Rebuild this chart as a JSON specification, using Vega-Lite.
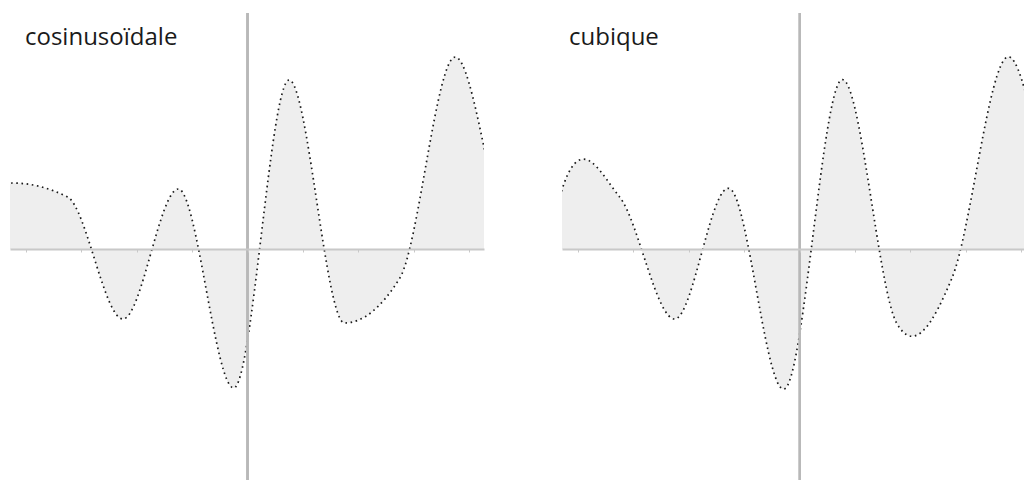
{
  "$schema": "https://vega.github.io/schema/vega-lite/v6.json",
  "padding": {"left": 10, "top": 12, "right": 0, "bottom": 0},
  "background": "white",
  "spacing": 78,
  "bounds": "flush",
  "config": {
    "view": {"stroke": null},
    "title": {"font": "Open Sans", "fontSize": 24, "fontWeight": "normal", "color": "#1a1a1a", "anchor": "start", "frame": "group", "offset": -38, "baseline": "alphabetic"}
  },
  "datasets": {
    "knots": [
      {"x": -5.25, "y": -250},
      {"x": -4.25, "y": 66},
      {"x": -3.25, "y": 52},
      {"x": -2.25, "y": -70},
      {"x": -1.25, "y": 60},
      {"x": -0.25, "y": -139},
      {"x": 0.75, "y": 169},
      {"x": 1.75, "y": -74},
      {"x": 2.75, "y": -29},
      {"x": 3.75, "y": 192},
      {"x": 4.75, "y": 8},
      {"x": 5.75, "y": -20}
    ]
  },
  "hconcat": [
    {
      "width": 474,
      "height": 468,
      "title": {"text": "cosinusoïdale", "dx": 15},
      "data": {"name": "knots"},
      "layer": [
        {
          "mark": {"type": "area", "interpolate": "monotone", "color": "#eeeeee", "clip": true},
          "encoding": {
            "x": {"field": "x", "type": "quantitative", "scale": {"domain": [-4.29, 4.27], "nice": false, "zero": false},
              "axis": {"values": [-4, -3, -2, -1, 0, 1, 2, 3, 4], "labels": false, "grid": false, "domain": true, "domainColor": "#c8c8c8", "domainWidth": 2, "ticks": true, "tickColor": "#c8c8c8", "tickSize": 3, "tickWidth": 1, "offset": -232, "title": null, "zindex": 1}},
            "y": {"field": "y", "type": "quantitative", "scale": {"domain": [-232, 236], "nice": false}, "axis": null},
            "y2": {"datum": 0}
          }
        },
        {
          "mark": {"type": "line", "interpolate": "monotone", "color": "#1a1a1a", "strokeWidth": 1.7, "strokeDash": [1.6, 3.6], "clip": true},
          "encoding": {
            "x": {"field": "x", "type": "quantitative"},
            "y": {"field": "y", "type": "quantitative"}
          }
        },
        {
          "mark": {"type": "rule", "color": "#b8b8b8", "strokeWidth": 1.5},
          "encoding": {"x": {"datum": 0}}
        }
      ]
    },
    {
      "width": 462,
      "height": 468,
      "title": {"text": "cubique", "dx": 7},
      "data": {"name": "knots"},
      "layer": [
        {
          "mark": {"type": "area", "interpolate": "cardinal", "color": "#eeeeee", "clip": true},
          "encoding": {
            "x": {"field": "x", "type": "quantitative", "scale": {"domain": [-4.29, 4.05], "nice": false, "zero": false},
              "axis": {"values": [-4, -3, -2, -1, 0, 1, 2, 3, 4], "labels": false, "grid": false, "domain": true, "domainColor": "#c8c8c8", "domainWidth": 2, "ticks": true, "tickColor": "#c8c8c8", "tickSize": 3, "tickWidth": 1, "offset": -232, "title": null, "zindex": 1}},
            "y": {"field": "y", "type": "quantitative", "scale": {"domain": [-232, 236], "nice": false}, "axis": null},
            "y2": {"datum": 0}
          }
        },
        {
          "mark": {"type": "line", "interpolate": "cardinal", "color": "#1a1a1a", "strokeWidth": 1.7, "strokeDash": [1.6, 3.6], "clip": true},
          "encoding": {
            "x": {"field": "x", "type": "quantitative"},
            "y": {"field": "y", "type": "quantitative"}
          }
        },
        {
          "mark": {"type": "rule", "color": "#b8b8b8", "strokeWidth": 1.5},
          "encoding": {"x": {"datum": 0}}
        }
      ]
    }
  ]
}
